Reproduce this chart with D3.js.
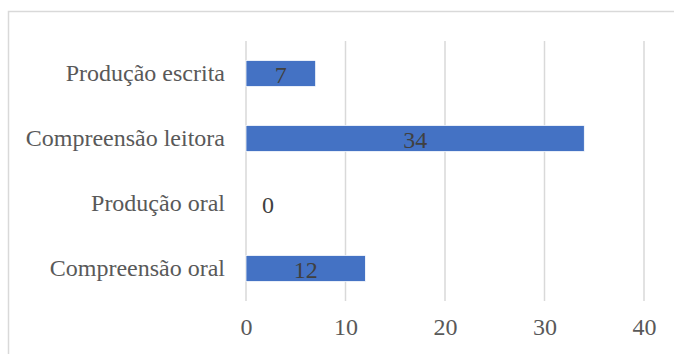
<!DOCTYPE html>
<html>
<head>
<meta charset="utf-8">
<script src="https://cdn.jsdelivr.net/npm/d3@7"></script>
<style>
  body { margin: 0; background: #fff; }
  svg { display: block; }
</style>
</head>
<body>
<svg width="674" height="354"></svg>
<script>
// categories from top to bottom
var categories = ["Produção escrita", "Compreensão leitora", "Produção oral", "Compreensão oral"];
var values = [7, 34, 0, 12];
var xTicks = [0, 10, 20, 30, 40];

var svg = d3.select("svg"),
    width = +svg.attr("width"),
    height = +svg.attr("height");

var font = "'Liberation Serif'";

// chart area border (runs off the right and bottom edges)
svg.append("rect")
    .attr("x", 8.5)
    .attr("y", 11.5)
    .attr("width", 720)
    .attr("height", 400)
    .attr("fill", "none")
    .attr("stroke", "#d9d9d9")
    .attr("stroke-width", 1.5);

var margin = {left: 246, top: 41, bottom: 53};

var x = d3.scaleLinear()
    .domain([0, 40])
    .range([margin.left, 644]);

var y = d3.scaleBand()
    .domain(categories)
    .range([margin.top, height - margin.bottom])
    .paddingInner(0.6)
    .paddingOuter(0.3);

// gridlines
svg.append("g")
    .attr("class", "grid")
    .selectAll("line")
    .data(xTicks)
    .enter().append("line")
    .attr("x1", function(d) { return x(d); })
    .attr("x2", function(d) { return x(d); })
    .attr("y1", margin.top)
    .attr("y2", height - margin.bottom)
    .attr("stroke", "#d9d9d9")
    .attr("stroke-width", 1.5);

// x tick labels
var xAxis = svg.append("g")
    .attr("transform", "translate(0," + (height - margin.bottom) + ")")
    .call(d3.axisBottom(x).tickValues(xTicks).tickSize(0).tickPadding(17));
xAxis.attr("font-family", font).attr("font-size", 24);
xAxis.select(".domain").remove();
xAxis.selectAll("text")
    .style("font-family", font)
    .style("font-size", "24px")
    .attr("fill", "#595959");

// category labels
var yAxis = svg.append("g")
    .attr("transform", "translate(" + (margin.left - 21) + ",0)")
    .call(d3.axisLeft(y).tickSize(0).tickPadding(0));
yAxis.attr("font-family", font).attr("font-size", 24);
yAxis.select(".domain").remove();
yAxis.selectAll("text")
    .style("font-family", font)
    .style("font-size", "24px")
    .attr("fill", "#595959");

// bars
svg.append("g")
    .selectAll("rect")
    .data(values)
    .enter().append("rect")
    .attr("x", x(0))
    .attr("y", function(d, i) { return y(categories[i]); })
    .attr("width", function(d) { return x(d) - x(0); })
    .attr("height", y.bandwidth())
    .attr("fill", "#4472c4")
    .attr("stroke", function(d) { return d > 0 ? "#ffffff" : "none"; })
    .attr("stroke-width", 0.75);

// value labels (zero label sits just right of the axis)
svg.append("g")
    .selectAll("text")
    .data(values)
    .enter().append("text")
    .attr("x", function(d) {
        return d > 0 ? (x(0) + x(d)) / 2 : x(0) + 22;
    })
    .attr("y", function(d, i) { return y(categories[i]) + y.bandwidth() / 2; })
    .attr("dy", "0.38em")
    .style("text-anchor", "middle")
    .style("font-family", font)
    .style("font-size", "24px")
    .attr("fill", "#404040")
    .text(function(d) { return d; });
</script>
</body>
</html>
